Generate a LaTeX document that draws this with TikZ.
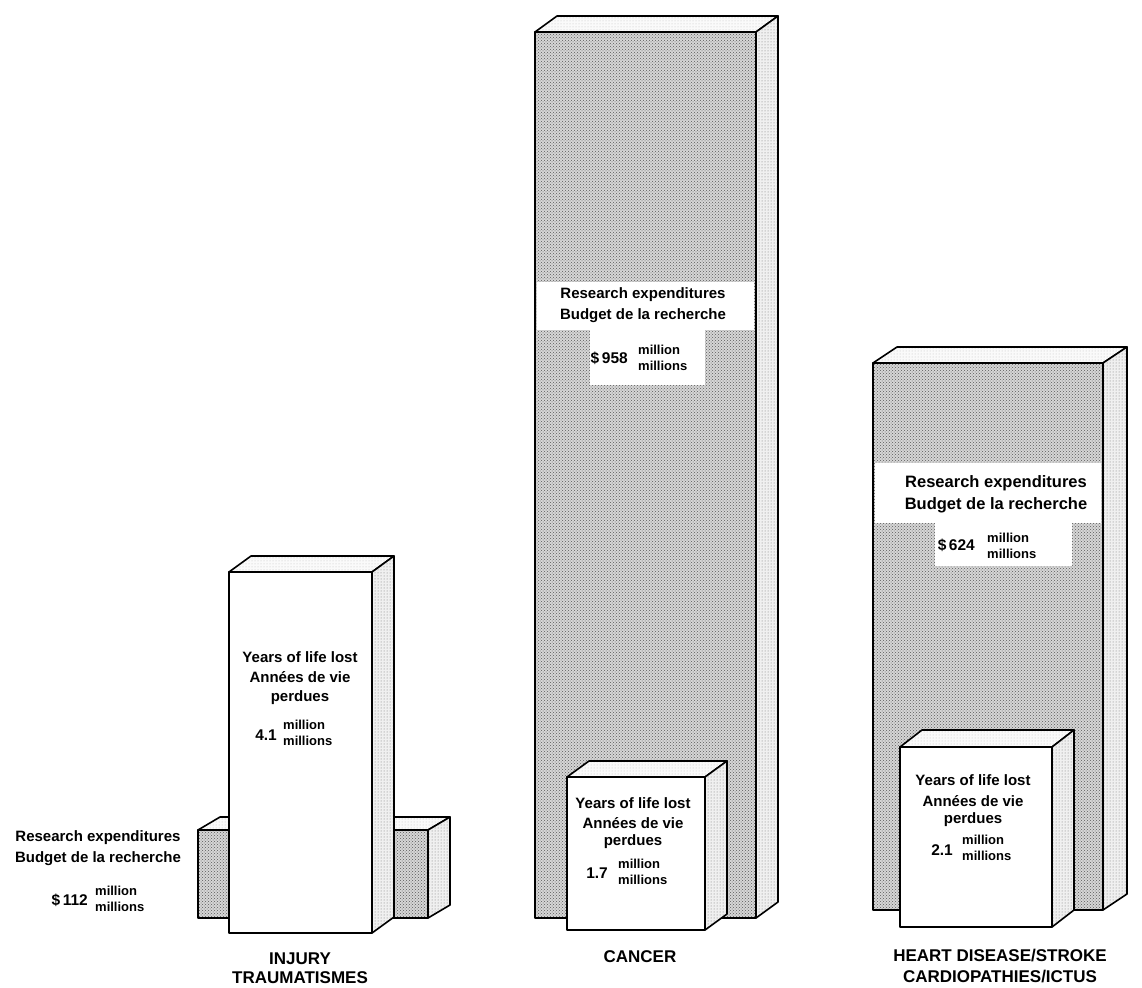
\documentclass[tikz,border=0pt]{standalone}
\usepackage{fontspec}
\setmainfont{Liberation Sans}
\usetikzlibrary{patterns}

% looks of the faces
\tikzset{
  boxline/.style={draw=black, line width=1.6pt, line join=round},
  resfront/.style={boxline, preaction={fill=black!16}, pattern=crosshatch dots, pattern color=black!65},
  resside/.style={boxline, preaction={fill=black!6}, pattern=dots, pattern color=black!55},
  restop/.style={boxline, preaction={fill=black!2}, pattern=dots, pattern color=black!25},
  lifefront/.style={boxline, fill=white},
  lifeside/.style={resside},
  lifetop/.style={restop},
  txt/.style={inner sep=0pt, font=\fontsize{15}{18}\selectfont\bfseries},
  num/.style={inner sep=0pt, anchor=east, font=\fontsize{15.5}{18}\selectfont\bfseries},
  unit/.style={inner sep=0pt, anchor=west, align=left, font=\fontsize{13}{15.5}\selectfont\bfseries},
  cat/.style={inner sep=0pt, font=\fontsize{17}{20}\selectfont\bfseries},
}

% front top-left, front bottom-right, depth, look
\newcommand{\cuboid}[7]{%
  \path[#7top] (#1,#2) -- (#1+#5,#2-#6) -- (#3+#5,#2-#6) -- (#3,#2) -- cycle;
  \path[#7side] (#3,#2) -- (#3+#5,#2-#6) -- (#3+#5,#4-#6) -- (#3,#4) -- cycle;
  \path[#7front] (#1,#2) rectangle (#3,#4);
}

\begin{document}
\begin{tikzpicture}[x=1pt, y=-1pt]

\useasboundingbox (0,0) rectangle (1142,987);
\fill[white] (0,0) rectangle (1142,987);

% injury =============================
\cuboid{198}{830}{428}{918}{22}{13}{res}
\cuboid{229}{572}{372}{933}{22}{16}{life}

\node[txt] (injresA) at (98,838) {Research expenditures};
\node[txt] (injresB) at (98,859) {Budget de la recherche};
\node[num] (injresN) at (88,900) {\$\,112};
\node[unit] (injresU) at (95,899) {million\\millions};

\node[txt] (injlifeA) at (300,657) {Years of life lost};
\node[txt] (injlifeB) at (300,677) {Années de vie};
\node[txt] (injlifeC) at (300,698) {perdues};
\node[num] (injlifeN) at (277,735) {4.1};
\node[unit] (injlifeU) at (283,733) {million\\millions};

\node[cat] (injcatA) at (300,959) {INJURY};
\node[cat] (injcatB) at (300,978) {TRAUMATISMES};

% cancer =============================
\cuboid{535}{32}{756}{918}{22}{16}{res}
\fill[white] (537,282) rectangle (754,330);
\fill[white] (590,330) rectangle (705,385);

\node[txt] (canresA) at (643,295) {Research expenditures};
\node[txt] (canresB) at (643,316) {Budget de la recherche};
\node[num] (canresN) at (628,358) {\$\,958};
\node[unit] (canresU) at (638,358) {million\\millions};

\cuboid{567}{777}{705}{930}{22}{16}{life}

\node[txt] (canlifeA) at (633,803) {Years of life lost};
\node[txt] (canlifeB) at (633,823) {Années de vie};
\node[txt] (canlifeC) at (633,842) {perdues};
\node[num] (canlifeN) at (608,873) {1.7};
\node[unit] (canlifeU) at (618,872) {million\\millions};

\node[cat] (cancat) at (640,957) {CANCER};

% heart disease ======================
\cuboid{873}{363}{1103}{910}{24}{16}{res}
\fill[white] (875,463) rectangle (1101,523);
\fill[white] (935,523) rectangle (1072,566);

\node[txt, font=\fontsize{16.5}{18}\selectfont\bfseries] (hrtresA) at (996,483) {Research expenditures};
\node[txt, font=\fontsize{16.5}{18}\selectfont\bfseries] (hrtresB) at (996,505) {Budget de la recherche};
\node[num] (hrtresN) at (975,545) {\$\,624};
\node[unit] (hrtresU) at (987,546) {million\\millions};

\cuboid{900}{747}{1052}{927}{22}{17}{life}

\node[txt] (hrtlifeA) at (973,780) {Years of life lost};
\node[txt] (hrtlifeB) at (973,801) {Années de vie};
\node[txt] (hrtlifeC) at (973,820) {perdues};
\node[num] (hrtlifeN) at (953,850) {2.1};
\node[unit] (hrtlifeU) at (962,848) {million\\millions};

\node[cat] (hrtcatA) at (1000,955) {HEART DISEASE/STROKE};
\node[cat] (hrtcatB) at (1000,976) {CARDIOPATHIES/ICTUS};

\end{tikzpicture}
\end{document}
